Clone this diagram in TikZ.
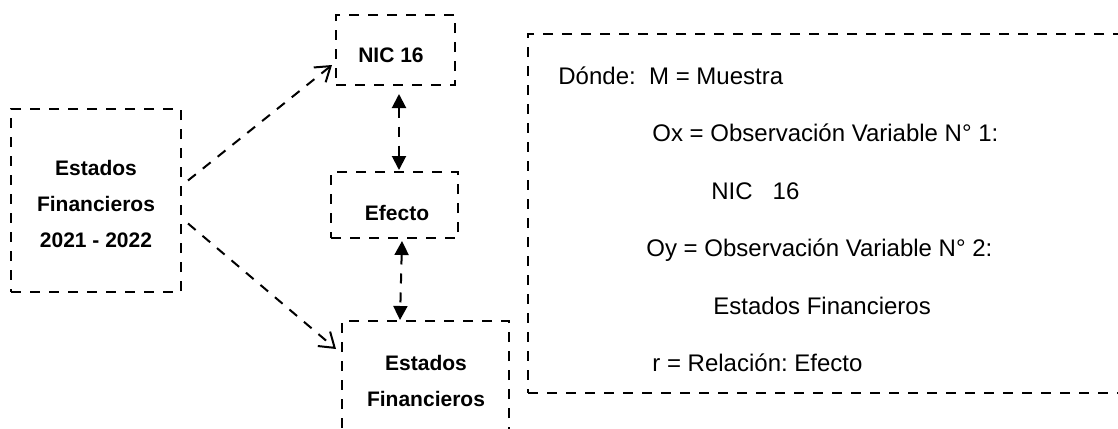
\documentclass[tikz,border=0pt]{standalone}
\usepackage{fontspec}
\setmainfont{Liberation Sans}
\usetikzlibrary{arrows.meta,calc}
\frenchspacing
\begin{document}
\begin{tikzpicture}[x=0.5pt,y=-0.5pt,
 box/.style={draw, line width=1pt, dash pattern=on 5pt off 4.5pt, inner sep=0pt},
 conn/.style={line width=1pt, dash pattern=on 5pt off 4.5pt},
 boldtxt/.style={font=\bfseries\fontsize{10.5}{18}\selectfont, align=center, inner sep=0pt},
 plaintxt/.style={font=\fontsize{12}{14.4}\selectfont, anchor=base west, inner sep=0pt},
 openarr/.style={-{Straight Barb[length=7pt,width=9.5pt]}},
 botharr/.style={{Triangle[length=7pt,width=7pt]}-{Triangle[length=7pt,width=7pt]}}]
\clip (0,0) rectangle (1118,428);
% boxes
\node[box, minimum width=85pt, minimum height=91.5pt] (left) at (96,200.5) {};
\node[box, minimum width=59.5pt, minimum height=35pt] (nic) at (395.5,50) {};
\node[box, minimum width=63.5pt, minimum height=33pt] (ef) at (394.5,205) {};
\node[box, minimum width=83.5pt, minimum height=69.5pt] (fin) at (425.5,390.5) {};
\node[box, minimum width=306pt, minimum height=179.5pt] (leg) at (834,213.5) {};
% box texts
\node[boldtxt] (lefttxt) at (96,204) {Estados\\Financieros\\2021 - 2022};
\node[boldtxt] (nictxt) at (391,55) {NIC 16};
\node[boldtxt] (eftxt) at (397,213) {Efecto};
\node[boldtxt] (fintxt) at (426,381) {Estados\\Financieros};
% legend texts
\node[plaintxt] (t1) at (558,84) {Dónde:\ \ M = Muestra};
\node[plaintxt] (t2) at (652,141.5) {Ox = Observación Variable N° 1:};
\node[plaintxt] (t3) at (711,199) {NIC\ \ \ 16};
\node[plaintxt] (t4) at (646,256.5) {Oy = Observación Variable N° 2:};
\node[plaintxt] (t5) at (713,314) {Estados Financieros};
\node[plaintxt] (t6) at (652,371.5) {r = Relación: Efecto};
% connector end points
\coordinate (s1) at ($(left.east)+(6,-20)$);
\coordinate (s2) at ($(left.east)+(6,23)$);
\coordinate (e1) at ($(nic.west)+(-3,15)$);
\coordinate (e2) at ($(fin.north west)+(-5,29)$);
\coordinate (v1a) at ($(nic.south)+(3.5,8)$);
\coordinate (v1b) at ($(ef.north)+(4.5,-1)$);
\coordinate (v2a) at ($(ef.south)+(7.5,2)$);
\coordinate (v2b) at ($(fin.north)+(-25.5,0)$);
% connectors
\draw[conn, openarr] (s1) -- (e1);
\draw[conn, openarr] (s2) -- (e2);
\draw[conn, botharr] (v1a) -- (v1b);
\draw[conn, botharr] (v2a) -- (v2b);
\end{tikzpicture}
\end{document}
